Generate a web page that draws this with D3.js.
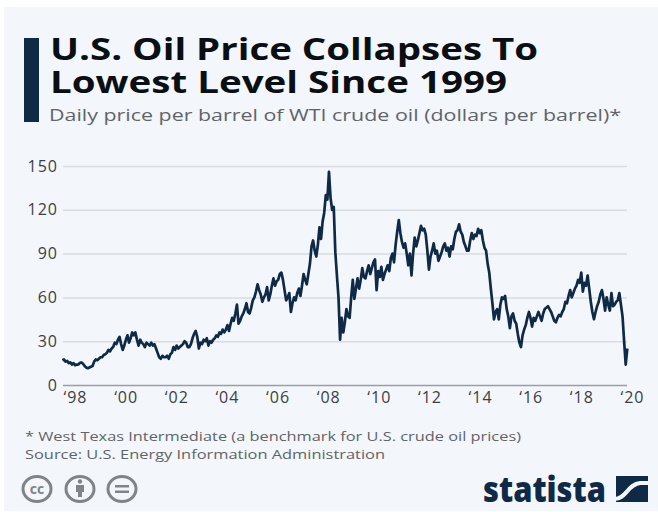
<!DOCTYPE html>
<html>
<head>
<meta charset="utf-8">
<script src="https://cdn.jsdelivr.net/npm/d3@7"></script>
<style>
  html, body { margin: 0; padding: 0; background: #fff; }
  text { font-family: "Open Sans", sans-serif; }
</style>
</head>
<body>
<svg id="chart" width="658" height="512"></svg>
<script>
// values, 16 samples per year starting Jan 1998
const firstYear = 1998
const samplesPerYear = 16
const prices = [
  17, 17.5, 16, 16.5, 15, 15.5, 14, 15, 13.5, 14, 14, 15, 15.5, 14.5, 13, 12,
  11.5, 12, 12.5, 13, 16, 17.5, 17, 18, 19, 19, 20.5, 21, 22, 24, 23, 25,
  26, 29, 28, 31, 33, 28, 24, 27, 31, 34, 29, 32, 36, 34, 36, 31,
  27, 31, 29, 28, 26, 29, 28, 27, 29, 27, 28, 25, 22, 19, 18, 20,
  19, 19, 20, 18, 21, 22, 26, 24, 27, 25, 26, 27, 28, 30, 29, 26,
  26, 28, 32, 35, 37, 33, 25, 29, 28, 31, 30, 32, 27, 30, 29, 31,
  32, 34, 33, 36, 35, 38, 36, 38, 41, 37, 42, 46, 44, 49, 55, 42,
  44, 47, 49, 52, 56, 50, 49, 53, 58, 60, 64, 69, 65, 62, 57, 60,
  62, 67, 58, 62, 68, 73, 68, 71, 72, 76, 77, 72, 65, 58, 60, 63,
  50, 56, 60, 58, 63, 66, 61, 68, 76, 72, 69, 76, 83, 95, 99, 92,
  88, 96, 108, 100, 112, 118, 130, 127, 146, 128, 120, 122, 91, 75, 60, 31,
  46, 36, 43, 52, 47, 46, 60, 72, 59, 66, 73, 66, 72, 80, 74, 73,
  78, 82, 76, 80, 84, 86, 65, 78, 74, 81, 72, 76, 79, 82, 78, 87,
  90, 84, 96, 105, 113, 104, 98, 94, 97, 90, 82, 90, 75, 90, 101, 95,
  99, 104, 109, 106, 107, 103, 92, 79, 88, 92, 97, 90, 92, 85, 88, 91,
  95, 97, 92, 94, 88, 95, 93, 100, 105, 106, 110, 105, 103, 98, 95, 92,
  92, 99, 104, 100, 103, 102, 107, 104, 106, 99, 94, 92, 83, 77, 66, 56,
  45, 50, 52, 45, 55, 60, 59, 61, 52, 47, 39, 47, 49, 44, 42, 35,
  29, 26, 34, 38, 41, 46, 50, 46, 40, 46, 44, 47, 50, 47, 44, 49,
  52, 53, 54, 52, 50, 47, 44, 43, 46, 48, 47, 50, 52, 57, 56, 61,
  65, 60, 63, 66, 68, 72, 70, 77, 64, 70, 68, 75, 66, 57, 50, 45,
  50, 54, 57, 62, 65, 59, 51, 60, 55, 51, 63, 54, 55, 57, 58, 63,
  55, 47, 30, 14, 25
]
const priceTicks = [0, 30, 60, 90, 120, 150]
const yearTicks = [1998, 2000, 2002, 2004, 2006, 2008, 2010, 2012, 2014, 2016, 2018, 2020]

const navy = '#0f2a47'
const svg = d3.select('#chart')

// panel background, the picture has a thin white edge top and left
svg.append('rect')
  .attr('x', 4)
  .attr('y', 7)
  .attr('width', 654)
  .attr('height', 504)
  .attr('fill', '#f3f6fa')

// header
svg.append('rect')
  .attr('x', 24)
  .attr('y', 38)
  .attr('width', 15)
  .attr('height', 84)
  .attr('fill', navy)

// text is a bit wider in the picture than the font, so force the lengths
function addText(str, x, y, size, length, color, weight) {
  return svg.append('text')
    .attr('x', x)
    .attr('y', y)
    .attr('font-size', size)
    .attr('font-weight', weight || 400)
    .attr('fill', color)
    .attr('textLength', length)
    .attr('lengthAdjust', 'spacingAndGlyphs')
    .text(str)
}

addText('U.S. Oil Price Collapses To', 50, 60, 30.5, 488, '#0a0f14', 700)
addText('Lowest Level Since 1999', 50, 92.5, 30.5, 457, '#0a0f14', 700)
addText('Daily price per barrel of WTI crude oil (dollars per barrel)*', 49, 121, 16.5, 572, '#5f6468')

// scales
const x = d3.scaleLinear()
  .domain([firstYear, 2020.1875])
  .range([62.4, 625.7])

const y = d3.scaleLinear()
  .domain([0, 150])
  .range([385, 166])

// labels sit in the middle of each year
const xLabel = d3.scaleLinear()
  .domain([1998, 2020])
  .range([75, 632])

// y axis with the gridlines
const yAxis = svg.append('g')
  .attr('transform', 'translate(63,0)')
  .call(d3.axisLeft(y)
    .tickValues(priceTicks)
    .tickSize(-564)
    .tickPadding(5))

yAxis.select('.domain').remove()
yAxis.selectAll('line')
  .attr('stroke', d => d === 0 ? '#9a9ea2' : '#d9dde1')
  .attr('stroke-width', 1.5)
yAxis.selectAll('text')
  .attr('font-size', 16)
  .attr('letter-spacing', 1)
  .attr('fill', '#3c4043')
  .style('font-family', '"Open Sans", sans-serif')

// x axis, labels only
const xAxis = svg.append('g')
  .attr('transform', 'translate(0,385)')
  .call(d3.axisBottom(xLabel)
    .tickValues(yearTicks)
    .tickSize(0)
    .tickPadding(7)
    .tickFormat(d => '‘' + String(d).slice(2)))

xAxis.select('.domain').remove()
xAxis.selectAll('text')
  .attr('font-size', 16)
  .attr('letter-spacing', 1)
  .attr('fill', '#3c4043')
  .style('font-family', '"Open Sans", sans-serif')

// the price line
const line = d3.line()
  .x((d, i) => x(firstYear + i / samplesPerYear))
  .y(d => y(d))

svg.append('path')
  .datum(prices)
  .attr('d', line)
  .attr('fill', 'none')
  .attr('stroke', navy)
  .attr('stroke-width', 2.7)
  .attr('stroke-linejoin', 'round')

// footer notes
addText('* West Texas Intermediate (a benchmark for U.S. crude oil prices)', 25, 440.5, 13.5, 496, '#5f6468')
addText('Source: U.S. Energy Information Administration', 25, 458.5, 13.5, 360, '#5f6468')

// licence icons
const iconGrey = '#808488'
const icons = svg.append('g')
  .attr('fill', 'none')
  .attr('stroke', iconGrey)
  .attr('stroke-width', 3)

icons.selectAll('ellipse')
  .data([37, 80, 122])
  .join('ellipse')
  .attr('cx', d => d)
  .attr('cy', 489)
  .attr('rx', 14)
  .attr('ry', 12.5)

svg.append('text')
  .attr('x', 37)
  .attr('y', 493.5)
  .attr('text-anchor', 'middle')
  .attr('font-size', 14)
  .attr('font-weight', 700)
  .attr('fill', iconGrey)
  .text('cc')

svg.append('circle')
  .attr('cx', 80)
  .attr('cy', 481.5)
  .attr('r', 2.2)
  .attr('fill', iconGrey)
svg.append('rect')
  .attr('x', 76)
  .attr('y', 485)
  .attr('width', 8)
  .attr('height', 7)
  .attr('fill', iconGrey)
svg.append('rect')
  .attr('x', 78)
  .attr('y', 491)
  .attr('width', 4)
  .attr('height', 6)
  .attr('fill', iconGrey)

svg.append('rect')
  .attr('x', 115)
  .attr('y', 485)
  .attr('width', 14)
  .attr('height', 2.5)
  .attr('fill', iconGrey)
svg.append('rect')
  .attr('x', 115)
  .attr('y', 490.5)
  .attr('width', 14)
  .attr('height', 2.5)
  .attr('fill', iconGrey)

// statista logo
addText('statista', 483, 502, 36, 123, navy, 800)

const logo = svg.append('g')
  .attr('transform', 'translate(616,476)')
logo.append('rect')
  .attr('width', 32)
  .attr('height', 26)
  .attr('fill', navy)
logo.append('path')
  .attr('d', 'M-1,23 C10,23 12,8 24,7 L33,7')
  .attr('fill', 'none')
  .attr('stroke', '#f3f6fa')
  .attr('stroke-width', 4)
</script>
</body>
</html>
